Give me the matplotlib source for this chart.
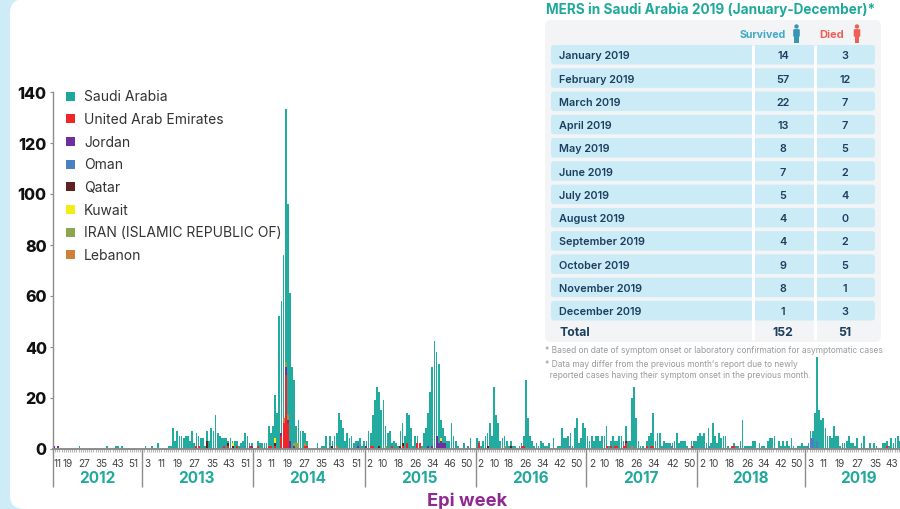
import matplotlib
matplotlib.use("Agg")
import matplotlib.pyplot as plt
from matplotlib.patches import FancyBboxPatch, Rectangle, Circle
import numpy as np

plt.rcParams['font.family'] = ['Inter', 'DejaVu Sans']

# weekly totals, all countries, one list per year
years = [2012, 2013, 2014, 2015, 2016, 2017, 2018, 2019]
total_2012 = [1, 0, 1, 0, 0, 0, 0, 0, 0, 0, 0, 0, 1, 0, 0, 0, 0, 0, 0, 0, 0, 0, 0, 0, 0, 1, 0, 0, 0, 1, 1, 0, 1,
              0, 0, 0, 0, 0, 0, 0, 0, 0]
total_2013 = [0, 1, 0, 0, 1, 0, 0, 2, 0, 0, 0, 0, 1, 1, 8, 3, 7, 5, 5, 4, 5, 5, 3, 7, 2, 6, 5, 4, 4, 1, 7, 3, 8, 7,
              13, 6, 5, 4, 4, 4, 3, 4, 3, 3, 3, 1, 2, 3, 6, 5, 2, 2]
total_2014 = [0, 0, 3, 2, 2, 2, 2, 9, 6, 9, 21, 14, 52, 58, 76, 133, 96, 61, 32, 27, 9, 11, 7, 7, 6, 3, 0, 0, 0, 0,
              2, 0, 1, 1, 5, 0, 5, 3, 5, 6, 14, 11, 8, 3, 6, 4, 5, 2, 3, 3, 4, 1, 3]
total_2015 = [3, 7, 6, 13, 19, 24, 22, 15, 19, 9, 6, 7, 2, 3, 2, 1, 7, 10, 5, 14, 13, 8, 1, 5, 5, 1, 1, 6, 8, 14, 22,
              32, 42, 38, 33, 11, 8, 5, 3, 3, 10, 5, 3, 1, 0, 0, 2, 0, 1, 4, 0, 0]
total_2016 = [4, 3, 1, 3, 5, 6, 10, 5, 24, 13, 10, 3, 4, 5, 3, 1, 3, 1, 1, 0, 1, 2, 5, 27, 12, 5, 3, 1, 2, 1, 3, 2,
              1, 1, 2, 0, 4, 0, 1, 1, 8, 4, 4, 5, 6, 1, 8, 12, 2, 4, 10, 8]
total_2017 = [5, 3, 5, 3, 5, 5, 3, 5, 5, 9, 1, 3, 5, 3, 3, 5, 5, 3, 9, 3, 3, 20, 24, 12, 3, 1, 1, 0, 3, 5, 6, 14, 3,
              6, 6, 1, 3, 2, 2, 2, 2, 3, 6, 2, 3, 3, 3, 1, 0, 3, 3, 3]
total_2018 = [5, 6, 5, 6, 2, 8, 2, 10, 5, 2, 6, 4, 5, 5, 1, 0, 1, 2, 1, 1, 3, 11, 1, 1, 1, 1, 3, 3, 0, 2, 1, 1, 0, 3,
              4, 4, 5, 0, 3, 1, 3, 1, 3, 1, 4, 1, 0, 1, 1, 2, 1]
total_2019 = [1, 2, 7, 7, 14, 36, 15, 11, 12, 8, 5, 5, 4, 9, 5, 5, 1, 2, 2, 3, 5, 2, 2, 1, 4, 0, 2, 5, 0, 0, 2, 0, 2,
              1, 0, 0, 2, 2, 3, 1, 4, 2, 4, 5, 3]
totals = [total_2012, total_2013, total_2014, total_2015, total_2016, total_2017, total_2018, total_2019]

# other countries: (year, week index within year, cases)
uae = [(2013, 25, 1), (2013, 26, 1), (2013, 38, 1), (2013, 40, 1), (2013, 44, 1), (2013, 50, 1),
       (2014, 2, 1), (2014, 7, 1), (2014, 8, 1), (2014, 10, 1), (2014, 13, 5), (2014, 14, 10), (2014, 15, 29),
       (2014, 16, 10), (2014, 24, 1), (2014, 25, 1),
       (2015, 2, 1), (2015, 3, 1), (2015, 12, 1), (2015, 17, 1), (2015, 19, 2), (2015, 24, 2), (2015, 25, 2),
       (2016, 1, 2), (2016, 21, 1), (2016, 22, 1),
       (2017, 9, 1), (2017, 11, 1), (2017, 13, 1), (2017, 14, 1), (2017, 17, 1), (2017, 18, 2), (2017, 28, 1),
       (2017, 30, 1), (2017, 31, 1), (2017, 49, 1),
       (2018, 16, 1), (2018, 17, 1), (2019, 38, 1)]
jordan = [(2012, 0, 1), (2012, 2, 1), (2013, 51, 1), (2014, 13, 1), (2014, 15, 3), (2014, 16, 1), (2014, 17, 3),
          (2014, 19, 1), (2014, 49, 1), (2015, 0, 1), (2015, 29, 1), (2015, 31, 1), (2015, 33, 5), (2015, 34, 2),
          (2015, 35, 3), (2015, 36, 2), (2015, 37, 2)]
oman = [(2013, 48, 1), (2014, 49, 1), (2015, 48, 1), (2016, 44, 1), (2017, 40, 1), (2018, 5, 1),
        (2019, 1, 1), (2019, 2, 4), (2019, 3, 4), (2019, 5, 3)]
qatar = [(2013, 30, 3), (2013, 40, 1), (2013, 42, 1), (2014, 10, 1), (2014, 37, 1), (2015, 6, 1), (2015, 16, 1),
         (2015, 17, 1), (2016, 5, 1), (2016, 16, 1), (2017, 18, 1)]
kuwait = [(2013, 42, 1), (2014, 10, 2), (2015, 35, 1)]
iran = [(2014, 15, 2), (2014, 19, 1), (2014, 20, 2), (2014, 21, 2), (2015, 9, 1), (2016, 13, 1)]
lebanon = [(2014, 14, 2), (2014, 16, 2), (2014, 24, 1), (2014, 39, 1), (2017, 21, 1)]

country_names = ['Saudi Arabia', 'United Arab Emirates', 'Jordan', 'Oman', 'Qatar', 'Kuwait',
                 'IRAN (ISLAMIC REPUBLIC OF)', 'Lebanon']
country_colors = ['#1ba99b', '#ee2529', '#6f2f9e', '#4a80c4', '#5f2120', '#f2ec17', '#8aa84b', '#d1803a']

# epi week labels under the axis
week_labels = [[11, 19, 27, 35, 43, 51], [3, 11, 19, 27, 35, 43, 51], [3, 11, 19, 27, 35, 43, 51],
               [2, 10, 18, 26, 34, 46, 50], [2, 10, 18, 26, 34, 42, 50], [2, 10, 18, 26, 34, 42, 50],
               [2, 10, 18, 26, 34, 42, 50], [3, 11, 19, 27, 35, 43]]
week_label_px = [[57, 68, 84, 101, 118, 133], [147, 161, 178, 194, 212, 229, 245], [258, 271, 288, 304.5, 321.5, 338.5, 356],
                 [369.5, 383, 398.5, 415.5, 432.5, 450, 466], [480.5, 494.5, 509, 525.5, 543, 560, 576.5],
                 [592, 605, 619.5, 636.5, 653.5, 672.5, 689.5], [702, 713.5, 730, 747, 764, 781, 796.5],
                 [810, 823, 840, 857, 875, 891.5]]
year_label_px = [97, 196, 308, 419.5, 530, 641, 750, 858]

# table
months = ['January 2019', 'February 2019', 'March 2019', 'April 2019', 'May 2019', 'June 2019', 'July 2019',
          'August 2019', 'September 2019', 'October 2019', 'November 2019', 'December 2019']
survived = [14, 57, 22, 13, 8, 7, 5, 4, 4, 9, 8, 1]
died = [3, 12, 7, 7, 5, 2, 4, 0, 2, 5, 1, 3]

sizes = [len(t) for t in totals]
offset = dict(zip(years, np.cumsum([0] + sizes[:-1])))
n = sum(sizes)
total = np.array(sum(totals, []), dtype=float)
x = np.arange(n) + 0.5

def weekly(rows):
    v = np.zeros(n)
    for year, week, cases in rows:
        v[offset[year] + week] += cases
    return v

others = [weekly(uae), weekly(jordan), weekly(oman), weekly(qatar), weekly(kuwait), weekly(iran), weekly(lebanon)]
saudi = np.clip(total - np.sum(others, axis=0), 0, None)

fig = plt.figure(figsize=(9, 5.1), dpi=100, facecolor='#cdecf8')

# white rounded card behind everything
bg = fig.add_axes([0, 0, 1, 1], zorder=0)
bg.set_xlim(0, 900)
bg.set_ylim(510, 0)
bg.axis('off')
bg.add_patch(FancyBboxPatch((24, 14), 900, 482, boxstyle="round,pad=14,rounding_size=14", fc='white', ec='none'))

# chart
px_week = 2.125
ax = fig.add_axes([53 / 900, (510 - 449.5) / 510, 847 / 900, 357 / 510], zorder=1)
ax.patch.set_alpha(0)
ax.set_xlim(0, 847 / px_week)
ax.set_ylim(0, 140)
bottom = np.zeros(n)
for vals, col in zip(others, country_colors[1:]):
    ax.bar(x, vals, bottom=bottom, width=0.95, color=col, linewidth=0)
    bottom += vals
ax.bar(x, saudi, bottom=bottom, width=0.88, color='#22ab9e', linewidth=0)

for s in ['top', 'right']:
    ax.spines[s].set_visible(False)
ax.spines['left'].set_color('#8c8c8c')
ax.spines['bottom'].set_color('#8c8c8c')
ax.spines['left'].set_linewidth(1.0)
ax.spines['bottom'].set_linewidth(1.4)
ax.set_yticks(range(0, 141, 20))
ax.tick_params(axis='y', length=2.5, width=0.8, color='#8c8c8c', pad=2, labelsize=11.5, labelcolor='#111111')
for t in ax.get_yticklabels():
    t.set_fontweight('heavy')
ax.set_xticks(np.arange(n), minor=True)
ax.tick_params(axis='x', which='minor', length=2.2, width=0.8, color='#b5b5b5')
ticks = [(p - 53) / px_week for row in week_label_px for p in row]
ax.set_xticks(ticks)
ax.set_xticklabels([str(w) for row in week_labels for w in row], fontsize=7.2, color='#444444')
ax.tick_params(axis='x', which='major', length=0, pad=6.5)

# overlay for separators, legend and table
top = fig.add_axes([0, 0, 1, 1], zorder=2)
top.set_xlim(0, 900)
top.set_ylim(510, 0)
top.axis('off')
top.patch.set_alpha(0)

for y, off in zip(years, offset.values()):
    xp = 53 + off * px_week
    top.plot([xp, xp], [450, 488], color='#8c8c8c', lw=1.0, solid_capstyle='butt')
for y, xp in zip(years, year_label_px):
    top.text(xp, 479, str(y), ha='center', va='center', fontsize=11, fontweight='bold', color='#21a99c')
top.text(467, 501, 'Epi week', ha='center', va='center', fontsize=13.2, fontweight='bold', color='#8f2a90')

for i, (name, col) in enumerate(zip(country_names, country_colors)):
    yy = 97 + i * 22.7
    top.add_patch(Rectangle((66, yy - 4.5), 9, 9, fc=col, ec='none'))
    top.text(84, yy + 0.3, name, ha='left', va='center', fontsize=10, color='#333333')

# table panel
navy = '#1b3f5e'
top.text(546, 10, 'MERS in Saudi Arabia 2019 (January-December)*', ha='left', va='center', fontsize=9.8,
         fontweight='bold', color='#1fa99c')
top.add_patch(FancyBboxPatch((550, 26), 326, 312, boxstyle="round,pad=5,rounding_size=6", fc='#f2f4f6', ec='none'))
top.text(763, 34.5, 'Survived', ha='center', va='center', fontsize=7.6, fontweight='bold', color='#3fa9c8')
top.text(831.5, 34.5, 'Died', ha='center', va='center', fontsize=8, fontweight='bold', color='#ef5f58')
for cx, col in [(796.5, '#3596b5'), (857, '#ef5f58')]:
    top.add_patch(Circle((cx, 27.5), 2.2, fc=col, ec='none'))
    top.add_patch(FancyBboxPatch((cx - 2.4, 31), 4.8, 6, boxstyle="round,pad=0.9,rounding_size=1.2", fc=col, ec='none'))
    top.add_patch(Rectangle((cx - 2.2, 37), 4.4, 6.5, fc=col, ec='none'))

for i, (m, s, d) in enumerate(zip(months, survived, died)):
    y0 = 46 + i * 23.27
    top.add_patch(FancyBboxPatch((553, y0 + 2), 320, 15.5, boxstyle="round,pad=2,rounding_size=3", fc='#cbebf7', ec='none'))
    top.text(559, y0 + 10.3, m, ha='left', va='center', fontsize=7.8, fontweight='semibold', color=navy)
    top.text(783, y0 + 10.3, str(s), ha='center', va='center', fontsize=7.8, fontweight='semibold', color=navy)
    top.text(845, y0 + 10.3, str(d), ha='center', va='center', fontsize=7.8, fontweight='semibold', color=navy)
for xl in [752.5, 814.5]:
    top.plot([xl, xl], [46, 341], color='white', lw=2.2, solid_capstyle='butt')
top.text(559, 333, 'Total', ha='left', va='center', fontsize=8.8, fontweight='bold', color=navy)
top.text(783, 333, str(sum(survived)), ha='center', va='center', fontsize=8.8, fontweight='bold', color=navy)
top.text(845, 333, str(sum(died)), ha='center', va='center', fontsize=8.8, fontweight='bold', color=navy)

notes = ['* Based on date of symptom onset or laboratory confirmation for asymptomatic cases',
         '* Data may differ from the previous month\u2019s report due to newly',
         '  reported cases having their symptom onset in the previous month.']
for txt, yy in zip(notes, [350.5, 365, 375.5]):
    top.text(545, yy, txt, ha='left', va='center', fontsize=6.05, color='#9a9a9a')

fig.savefig('out.png', dpi=100, facecolor=fig.get_facecolor())
